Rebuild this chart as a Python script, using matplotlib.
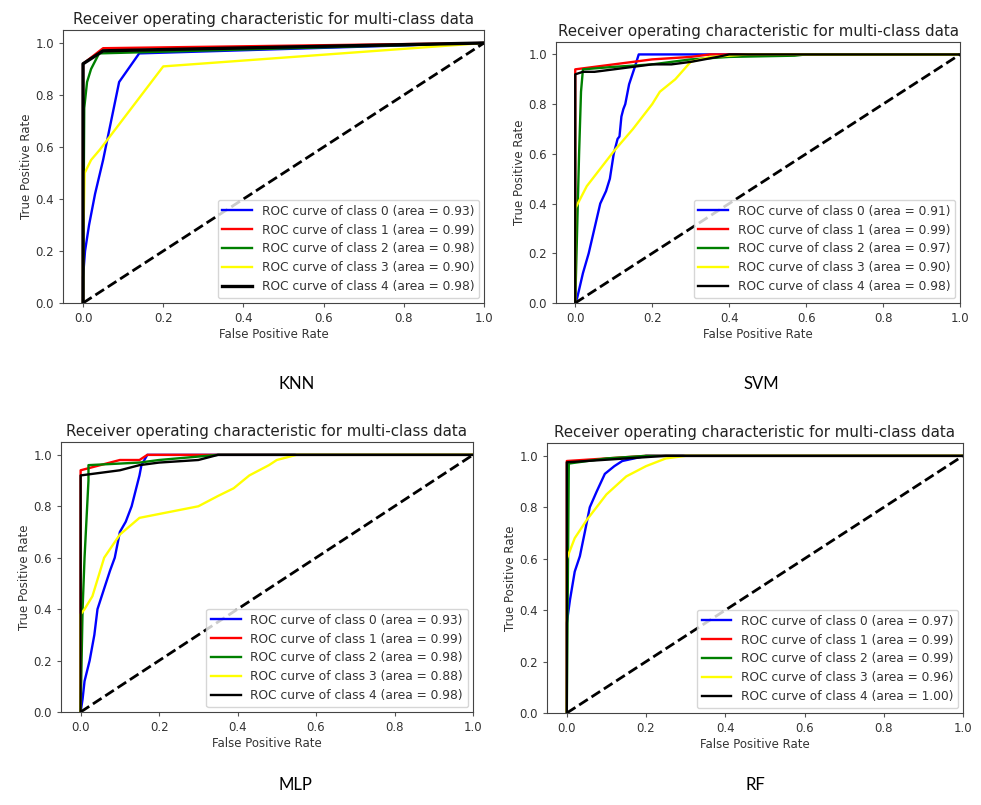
import matplotlib
matplotlib.use("Agg")
import matplotlib.pyplot as plt

# ROC data (fpr / tpr per class)
class_colors = ["blue", "red", "green", "yellow", "black"]
model_names = ["KNN", "SVM", "MLP", "RF"]

knn_fpr = [
    [0, 0.0, 0.005, 0.015, 0.03, 0.05, 0.07, 0.09, 0.14, 1.0],
    [0, 0, 0.05, 1],
    [0, 0.003, 0.01, 0.02, 0.04, 1],
    [0, 0, 0.004, 0.02, 0.042, 0.2, 1],
    [0, 0, 0.05, 1],
]
knn_tpr = [
    [0, 0.1, 0.2, 0.3, 0.42, 0.55, 0.7, 0.85, 0.96, 1.0],
    [0, 0.92, 0.98, 1],
    [0, 0.75, 0.85, 0.9, 0.96, 1],
    [0, 0.2, 0.5, 0.55, 0.59, 0.91, 1],
    [0, 0.92, 0.97, 1],
]
knn_auc = [0.93, 0.99, 0.98, 0.90, 0.98]

svm_fpr = [
    [0, 0.005, 0.02, 0.035, 0.05, 0.065, 0.08, 0.09, 0.1, 0.11, 0.115, 0.12, 0.125, 0.13, 0.14, 0.155, 0.165, 1],
    [0, 0, 0.1, 0.15, 0.2, 0.3, 0.35, 0.4, 1],
    [0, 0.005, 0.01, 0.015, 0.02, 0.1, 0.2, 0.3, 0.4, 0.57, 0.6, 1],
    [0, 0, 0.03, 0.06, 0.1, 0.15, 0.2, 0.22, 0.26, 0.3, 0.35, 0.45, 1],
    [0, 0, 0.02, 0.05, 0.1, 0.15, 0.2, 0.25, 0.3, 0.37, 0.4, 1],
]
svm_tpr = [
    [0, 0.02, 0.12, 0.2, 0.3, 0.4, 0.45, 0.5, 0.6, 0.66, 0.67, 0.75, 0.78, 0.8, 0.88, 0.95, 1.0, 1.0],
    [0, 0.94, 0.96, 0.97, 0.98, 0.99, 1.0, 1.0, 1],
    [0, 0.3, 0.6, 0.85, 0.94, 0.95, 0.96, 0.98, 0.99, 0.995, 1, 1],
    [0, 0.38, 0.47, 0.53, 0.61, 0.7, 0.8, 0.85, 0.9, 0.97, 0.99, 1, 1],
    [0, 0.92, 0.93, 0.93, 0.94, 0.95, 0.96, 0.96, 0.97, 0.99, 1, 1],
]
svm_auc = [0.91, 0.99, 0.97, 0.90, 0.98]

mlp_fpr = [
    [0, 0.005, 0.01, 0.023, 0.035, 0.043, 0.06, 0.075, 0.087, 0.1, 0.115, 0.13, 0.14, 0.15, 0.155, 0.17, 1],
    [0, 0, 0.05, 0.1, 0.15, 0.17, 1],
    [0, 0.005, 0.01, 0.02, 0.02, 0.15, 0.2, 0.35, 1],
    [0, 0, 0.01, 0.03, 0.06, 0.1, 0.15, 0.2, 0.3, 0.35, 0.39, 0.43, 0.48, 0.5, 0.55, 1],
    [0, 0, 0.05, 0.1, 0.15, 0.2, 0.3, 0.35, 1],
]
mlp_tpr = [
    [0, 0.05, 0.12, 0.2, 0.3, 0.4, 0.48, 0.55, 0.6, 0.7, 0.74, 0.8, 0.86, 0.92, 0.96, 1.0, 1.0],
    [0, 0.94, 0.96, 0.98, 0.98, 1.0, 1.0],
    [0, 0.4, 0.6, 0.9, 0.96, 0.97, 0.98, 1.0, 1],
    [0, 0.38, 0.4, 0.45, 0.6, 0.69, 0.755, 0.77, 0.8, 0.84, 0.87, 0.92, 0.96, 0.98, 1.0, 1],
    [0, 0.92, 0.93, 0.94, 0.96, 0.97, 0.98, 1.0, 1],
]
mlp_auc = [0.93, 0.99, 0.98, 0.88, 0.98]

rf_fpr = [
    [0, 0, 0.008, 0.02, 0.033, 0.045, 0.058, 0.075, 0.096, 0.12, 0.14, 0.2, 1],
    [0, 0, 0.1, 0.2, 1],
    [0, 0.005, 0.1, 0.2, 1],
    [0, 0, 0.02, 0.05, 0.1, 0.15, 0.2, 0.25, 0.3, 1],
    [0, 0, 0.05, 0.15, 0.25, 1],
]
rf_tpr = [
    [0, 0.35, 0.44, 0.55, 0.61, 0.7, 0.8, 0.86, 0.93, 0.96, 0.98, 1.0, 1],
    [0, 0.98, 0.99, 1.0, 1],
    [0, 0.97, 0.99, 1.0, 1],
    [0, 0.6, 0.68, 0.75, 0.85, 0.92, 0.96, 0.99, 1.0, 1],
    [0, 0.975, 0.98, 0.99, 1.0, 1],
]
rf_auc = [0.97, 0.99, 0.99, 0.96, 1.00]

W, H = 981, 805
fig = plt.figure(figsize=(W / 100, H / 100), dpi=100, facecolor="w")

# axes boxes in pixels: left, top, right, bottom
boxes = [(63, 30, 484, 303), (556, 42, 960, 303), (61, 442, 473, 712), (547, 443, 963, 713)]
captions_xy = [(297, 384), (761, 384), (295, 785), (755, 785)]
panels = [(knn_fpr, knn_tpr, knn_auc), (svm_fpr, svm_tpr, svm_auc),
          (mlp_fpr, mlp_tpr, mlp_auc), (rf_fpr, rf_tpr, rf_auc)]

for k, (fpr, tpr, auc) in enumerate(panels):
    l, t, r, b = boxes[k]
    ax = fig.add_axes([l / W, 1 - b / H, (r - l) / W, (b - t) / H])
    for i in range(5):
        lw = 2.4 if (k == 0 and i == 4) else 1.7
        ax.plot(fpr[i], tpr[i], color=class_colors[i], lw=lw,
                label="ROC curve of class {0} (area = {1:0.2f})".format(i, auc[i]))
    ax.plot([0, 1], [0, 1], "k--", lw=2)
    ax.set_xlim([-0.05, 1.0])
    ax.set_ylim([0.0, 1.05])
    ax.set_xticks([0, 0.2, 0.4, 0.6, 0.8, 1.0])
    ax.set_yticks([0, 0.2, 0.4, 0.6, 0.8, 1.0])
    ax.tick_params(labelsize=8.5, length=3, color="#555555", labelcolor="#333333")
    for s in ax.spines.values():
        s.set_color("#444444")
    ax.set_xlabel("False Positive Rate", fontsize=8.5, labelpad=2, color="#333333")
    ax.set_ylabel("True Positive Rate", fontsize=8.5, labelpad=2, color="#333333")
    ax.set_title("Receiver operating characteristic for multi-class data", fontsize=10.8, pad=4, color="#222222")
    leg = ax.legend(loc="lower right", fontsize=8.8, handlelength=2.4, labelspacing=0.48, borderaxespad=0.4)
    for txt in leg.get_texts():
        txt.set_color("#333333")
    cx, cy = captions_xy[k]
    fig.text(cx / W, 1 - cy / H, model_names[k], ha="center", va="center",
             fontsize=12, family=["Lato", "DejaVu Sans"])

fig.savefig("out.png", dpi=100)
